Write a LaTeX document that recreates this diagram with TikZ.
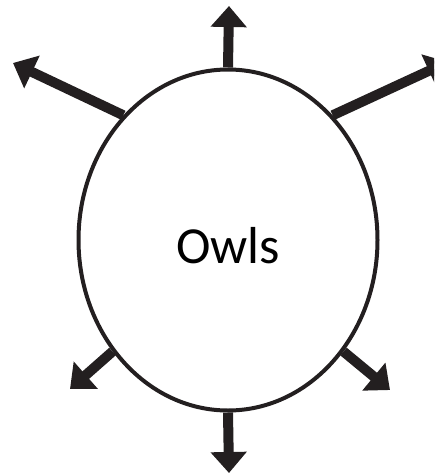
\documentclass[tikz,border=0pt]{standalone}
\usepackage{fontspec}
\setmainfont{Carlito}
\usetikzlibrary{shapes, arrows.meta}
\definecolor{inkblack}{HTML}{231F20}

\begin{document}
\begin{tikzpicture}[x=1pt, y=-1pt,
                    topic/.style={ellipse, draw=inkblack, line width=4pt, minimum width=299pt, minimum height=341pt, inner sep=0pt, font=\fontsize{52}{62}\selectfont, text height=47pt, text depth=0pt},
                    branch/.style={draw=inkblack, line width=10pt, -{Triangle[length=21pt, width=35pt]}}]

    \useasboundingbox (0,0) rectangle (434,474);
    \clip (0,0) rectangle (434,474);

    % Main Node
    \node[topic] (owls) at (228,240) {Owls};

    % Arrow ends
    \coordinate (tipN) at (229,6);
    \coordinate (tipS) at (229,473);
    \coordinate (tipNW) at (13,63);
    \coordinate (tipNE) at (448,62);
    \coordinate (tipSW) at (70,389);
    \coordinate (tipSE) at (390,390);

    % Arrows
    \draw[branch] (owls.north) -- (tipN);
    \draw[branch] (owls.south) -- (tipS);
    \draw[branch] (owls.130) -- (tipNW);
    \draw[branch] (owls.50) -- (tipNE);
    \draw[branch] (owls.224.5) -- (tipSW);
    \draw[branch] (owls.316) -- (tipSE);

\end{tikzpicture}
\end{document}
